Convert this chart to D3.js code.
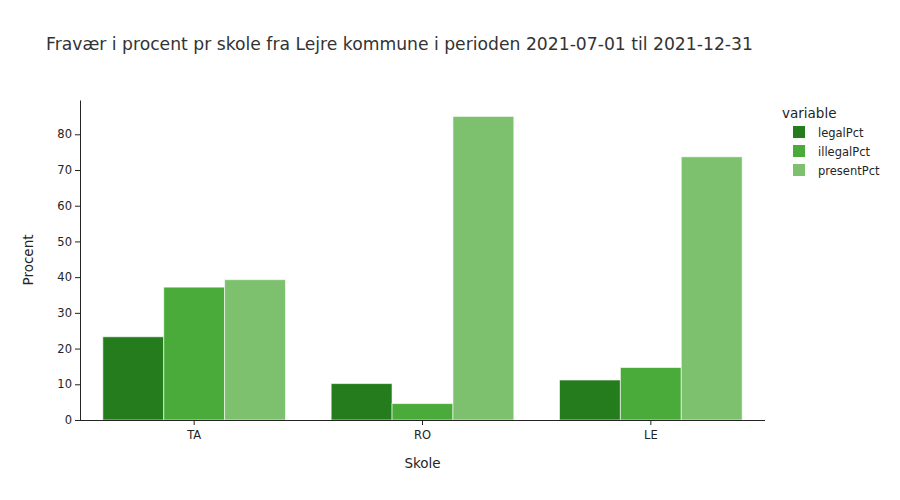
<!DOCTYPE html>
<html><head><meta charset="utf-8">
<script src="https://cdn.jsdelivr.net/npm/d3@7"></script>
<style>body{margin:0;background:#fff}svg{font-family:"DejaVu Sans",verdana,arial,sans-serif}</style>
</head><body><svg id="c" width="900" height="500"></svg>
<script>
const categories = ["TA", "RO", "LE"];
const seriesNames = ["legalPct", "illegalPct", "presentPct"];
const legalPct = [23.3, 10.2, 11.2];
const illegalPct = [37.2, 4.6, 14.7];
const presentPct = [39.3, 85.0, 73.7];
const yTicks = [0, 10, 20, 30, 40, 50, 60, 70, 80];
const colors = ["#247c1d", "#4aab3a", "#7dc16f"];
const seriesValues = [legalPct, illegalPct, presentPct];

const FONT = "'DejaVu Sans',verdana,arial,sans-serif";
const svg = d3.select("#c");
const ink = "rgb(36,36,36)";
const m = {l: 80, r: 135, t: 100, b: 80};
const W = 900, H = 500;
const x = d3.scaleBand().domain(categories).range([m.l, W - m.r]).paddingInner(0.2).paddingOuter(0.1);
const x1 = d3.scaleBand().domain(seriesNames).range([0, x.bandwidth()]);
const y = d3.scaleLinear().domain([0, 89.6]).range([H - m.b, m.t]);

svg.append("text").attr("x", 46).attr("y", 50).attr("font-size", 17.2).attr("fill", "#333")
  .text("Fravær i procent pr skole fra Lejre kommune i perioden 2021-07-01 til 2021-12-31");

seriesNames.forEach((s, si) => {
  svg.append("g").selectAll("rect").data(categories).join("rect")
    .attr("x", d => x(d) + x1(s))
    .attr("width", x1.bandwidth())
    .attr("y", (d, i) => y(seriesValues[si][i]))
    .attr("height", (d, i) => y(0) - y(seriesValues[si][i]))
    .attr("fill", colors[si])
    .attr("stroke", "#fff").attr("stroke-opacity", 0.6).attr("stroke-width", 1);
});

const ya = svg.append("g").attr("transform", `translate(${m.l},0)`)
  .call(d3.axisLeft(y).tickValues(yTicks).tickSize(5).tickPadding(3).tickSizeOuter(0));
ya.select(".domain").attr("stroke", ink);
ya.selectAll("line").attr("stroke", ink);
ya.selectAll("text").attr("font-size", 11.5).attr("fill", ink).attr("font-family", FONT);

const xa = svg.append("g").attr("transform", `translate(0,${H - m.b})`)
  .call(d3.axisBottom(x).tickSize(5).tickPadding(6).tickSizeOuter(0));
xa.select(".domain").attr("stroke", ink).attr("d", `M${m.l},0.5H${W - m.r}`);
xa.selectAll("line").attr("stroke", ink);
xa.selectAll("text").attr("font-size", 11.5).attr("fill", ink).attr("font-family", FONT);

svg.append("text").attr("x", (m.l + W - m.r) / 2).attr("y", 468).attr("text-anchor", "middle")
  .attr("font-size", 13.5).attr("fill", ink).text("Skole");
svg.append("text").attr("transform", `translate(33,${(m.t + H - m.b) / 2}) rotate(-90)`)
  .attr("text-anchor", "middle").attr("font-size", 13.5).attr("fill", ink).text("Procent");

const lg = svg.append("g");
lg.append("text").attr("x", 782).attr("y", 118).attr("font-size", 13.5).attr("fill", ink).text("variable");
seriesNames.forEach((s, i) => {
  const yy = 132 + i * 19;
  lg.append("rect").attr("x", 793).attr("y", yy - 6).attr("width", 12).attr("height", 12).attr("fill", colors[i]);
  lg.append("text").attr("x", 818).attr("y", yy + 4.5).attr("font-size", 11.5).attr("fill", ink).text(s);
});
</script></body></html>
